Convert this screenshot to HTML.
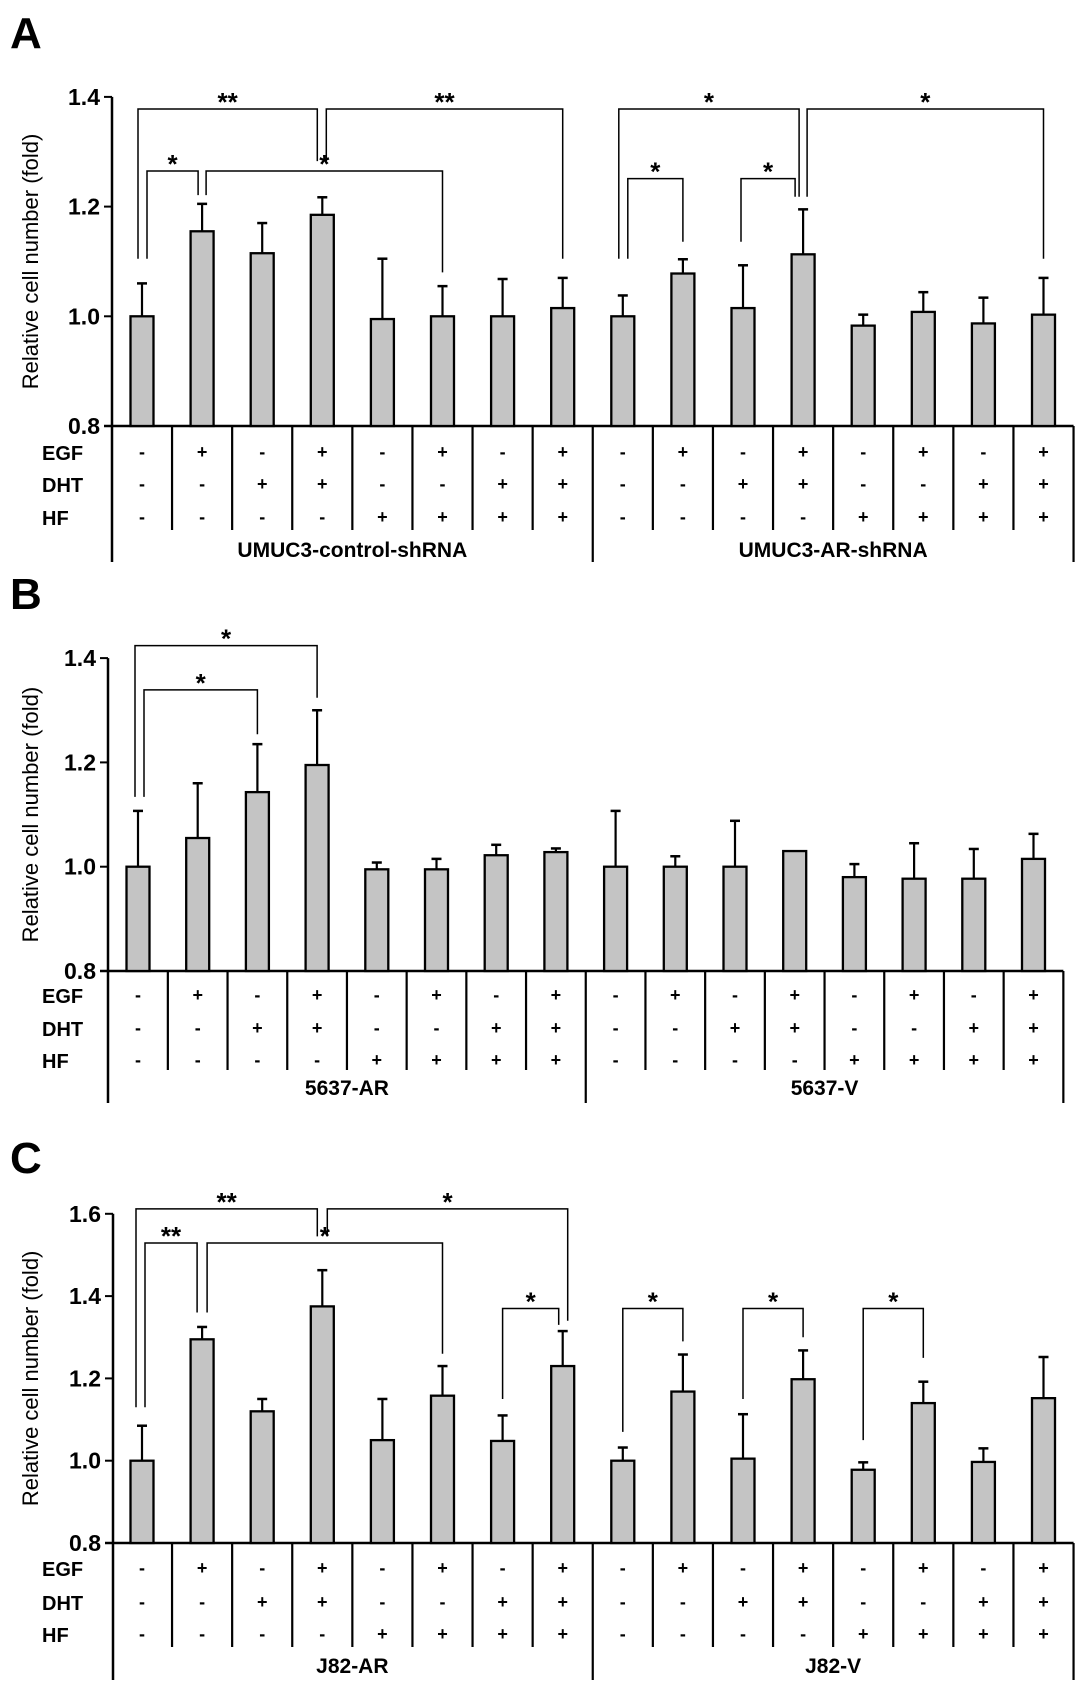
<!DOCTYPE html>
<html><head><meta charset="utf-8"><style>
html,body{margin:0;padding:0;background:#fff;}
svg{display:block;font-family:"Liberation Sans",Arial,sans-serif;}
</style></head><body>
<svg id="fig" width="1087" height="1693" viewBox="0 0 1087 1693" xmlns="http://www.w3.org/2000/svg"></svg>
<script>
// ---- data ----
const rowNames = ["EGF","DHT","HF"];
const egfFlags = ["-","+","-","+","-","+","-","+","-","+","-","+","-","+","-","+"];
const dhtFlags = ["-","-","+","+","-","-","+","+","-","-","+","+","-","-","+","+"];
const hfFlags  = ["-","-","-","-","+","+","+","+","-","-","-","-","+","+","+","+"];

const valuesA = [1.00,1.155,1.115,1.185,0.995,1.00,1.00,1.015,1.00,1.078,1.015,1.113,0.983,1.008,0.987,1.003];
const errorsA = [0.06,0.05,0.055,0.032,0.11,0.055,0.068,0.055,0.038,0.026,0.078,0.082,0.02,0.036,0.047,0.067];
const groupsA = ["UMUC3-control-shRNA","UMUC3-AR-shRNA"];
const ticksA = [0.8,1.0,1.2,1.4];

const valuesB = [1.00,1.055,1.143,1.195,0.995,0.995,1.022,1.028,1.00,1.00,1.00,1.03,0.98,0.977,0.977,1.015];
const errorsB = [0.107,0.105,0.092,0.105,0.013,0.02,0.02,0.007,0.107,0.02,0.088,0,0.025,0.068,0.057,0.048];
const groupsB = ["5637-AR","5637-V"];
const ticksB = [0.8,1.0,1.2,1.4];

const valuesC = [1.00,1.295,1.12,1.375,1.05,1.158,1.048,1.23,1.00,1.168,1.005,1.198,0.978,1.14,0.997,1.152];
const errorsC = [0.085,0.03,0.03,0.088,0.1,0.072,0.062,0.085,0.032,0.09,0.108,0.07,0.018,0.052,0.033,0.1];
const groupsC = ["J82-AR","J82-V"];
const ticksC = [0.8,1.0,1.2,1.4,1.6];

// brackets: [barFrom, offFrom, barTo, offTo, topValue, leftLegValue, rightLegValue, label]
const bracketsA = [
 [0,-4,3,-5,1.378,1.105,1.283,"**"],[3,4,7,0,1.378,1.283,1.105,"**"],
 [0,5,1,-4,1.265,1.105,1.221,"*"],[1,4,5,0,1.265,1.221,1.08,"*"],
 [8,-4,11,-4,1.378,1.105,1.218,"*"],[11,4,15,0,1.378,1.218,1.105,"*"],
 [8,5,9,0,1.251,1.105,1.136,"*"],[10,-2,11,-8,1.251,1.136,1.218,"*"]
];
const bracketsB = [
 [0,-3,3,0,1.424,1.134,1.324,"*"],[0,6,2,0,1.339,1.134,1.254,"*"]
];
const bracketsC = [
 [0,-6,3,-5,1.612,1.13,1.545,"**"],[3,5,7,5,1.612,1.545,1.34,"*"],
 [0,3,1,-5,1.529,1.13,1.36,"**"],[1,5,5,0,1.529,1.36,1.26,"*"],
 [6,0,7,-4,1.37,1.15,1.33,"*"],[8,0,9,0,1.37,1.07,1.29,"*"],
 [10,0,11,0,1.37,1.15,1.3,"*"],[12,0,13,0,1.37,1.05,1.25,"*"]
];

const NS="http://www.w3.org/2000/svg";
const svg=document.getElementById("fig");
function mk(tag,attrs,parent){const e=document.createElementNS(NS,tag);for(const k in attrs)e.setAttribute(k,attrs[k]);(parent||svg).appendChild(e);return e;}
function line(x1,y1,x2,y2,w,p){return mk("line",{x1:x1,y1:y1,x2:x2,y2:y2,stroke:"#000","stroke-width":w},p);}
function txt(s,x,y,size,weight,anchor,p){const t=mk("text",{x:x,y:y,"font-size":size,"font-weight":weight,"text-anchor":anchor,fill:"#000"},p);t.textContent=s;return t;}

function drawPanel(cfg,values,errors,ticks,groups,brackets,letter,name){
  const g=mk("g",{});
  
  
  const yOf=v=>cfg.base-(v-0.8)*cfg.unit;
  const xOf=i=>cfg.x0+i*cfg.dx;
  const right=cfg.x0+15.5*cfg.dx;
  const pl=txt(letter,10,cfg.letterY,44,"bold","start",g);
  
  
  // y axis
  const yTop=yOf(ticks[ticks.length-1]);
  const ax=line(cfg.ax,yTop,cfg.ax,cfg.longEnd,2.5,g);
  
  
  ticks.forEach(t=>{
    const y=yOf(t);
    line(cfg.ax-8,y,cfg.ax,y,2,g);
    const tl=txt(t.toFixed(1),cfg.ax-12,y+8,23,"bold","end",g);
    
    
  });
  const midY=(yTop+cfg.base)/2;
  const tt=txt("Relative cell number (fold)",0,0,22,"normal","middle",g);
  tt.setAttribute("transform","translate(38,"+midY+") rotate(-90)");
  
  
  // baseline
  line(cfg.ax-8,cfg.base,right,cfg.base,2.5,g);
  // bars
  values.forEach((v,i)=>{
    const x=xOf(i), top=yOf(v), et=yOf(v+errors[i]);
    if(errors[i]>0){
      const eb=line(x,top,x,et,2.2,g);
      
      
      line(x-5,et,x+5,et,2.5,g);
    }
    const r=mk("rect",{x:x-11.5,y:top,width:23,height:cfg.base-top,fill:"#c4c4c4",stroke:"#000","stroke-width":2.3},g);
    
    
  });
  // brackets
  brackets.forEach(b=>{
    const x1=xOf(b[0])+b[1], x2=xOf(b[2])+b[3], yt=yOf(b[4]);
    const p=mk("polyline",{points:x1+","+yOf(b[5])+" "+x1+","+yt+" "+x2+","+yt+" "+x2+","+yOf(b[6]),fill:"none",stroke:"#000","stroke-width":1.5},g);
    
    
    const s=txt(b[7],(x1+x2)/2,yt+2,26,"bold","middle",g);
    
    
  });
  // table
  const flags=[egfFlags,dhtFlags,hfFlags];
  rowNames.forEach((rn,r)=>{
    const rl=txt(rn,42,cfg.rows[r]+8,20,"bold","start",g);
    
    
    flags[r].forEach((f,i)=>{
      const c=txt(f,xOf(i),cfg.rows[r]+6,18,"bold","middle",g);
      
      
    });
  });
  for(let i=0;i<15;i++){
    const x=cfg.x0+(i+0.5)*cfg.dx;
    line(x,cfg.base,x,i===7?cfg.longEnd:cfg.sepEnd,2.2,g);
  }
  line(right,cfg.base,right,cfg.longEnd,2.2,g);
  groups.forEach((gn,k)=>{
    const gl=txt(gn,cfg.x0+(3.5+8*k)*cfg.dx,cfg.labelY,21,"bold","middle",g);
    
    
  });
}

drawPanel({ax:112,x0:142,dx:60.1,base:426,unit:548.5,rows:[452,484,517],sepEnd:530,longEnd:562,labelY:557,letterY:48},
  valuesA,errorsA,ticksA,groupsA,bracketsA,"A","panel-a");
drawPanel({ax:108,x0:138,dx:59.7,base:971,unit:521.5,rows:[995,1028,1060],sepEnd:1070,longEnd:1103,labelY:1095,letterY:609},
  valuesB,errorsB,ticksB,groupsB,bracketsB,"B","panel-b");
drawPanel({ax:113,x0:142,dx:60.1,base:1543,unit:411.5,rows:[1568,1602,1634],sepEnd:1647,longEnd:1680,labelY:1673,letterY:1173},
  valuesC,errorsC,ticksC,groupsC,bracketsC,"C","panel-c");
</script>
</body></html>
